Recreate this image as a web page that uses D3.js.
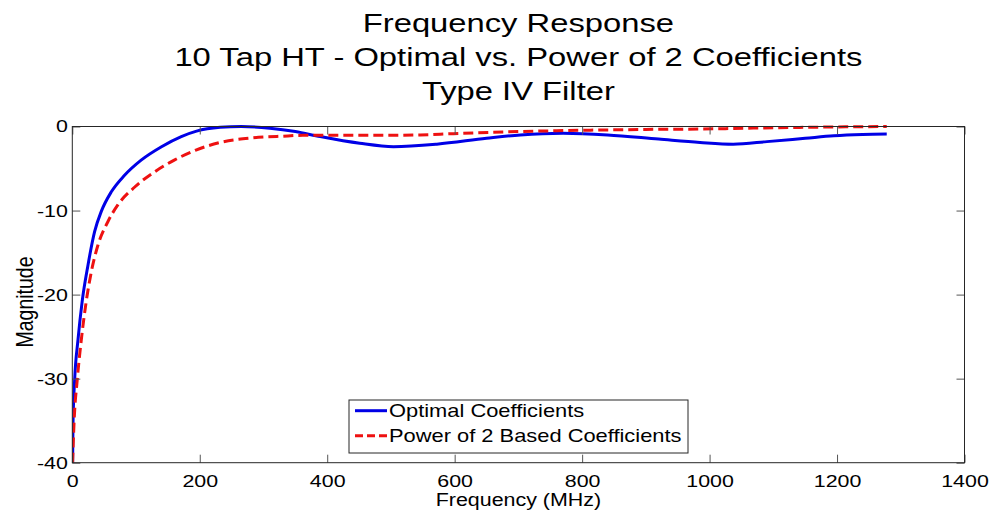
<!DOCTYPE html>
<html>
<head>
<meta charset="utf-8">
<script src="https://cdn.jsdelivr.net/npm/d3@7"></script>
<style>
  html, body { margin: 0; padding: 0; background: #fff; }
  svg { display: block; font-family: Arial, "Liberation Sans", sans-serif; }
</style>
</head>
<body>
<svg id="chart" width="993" height="514"></svg>
<script>
// Title lines
const titleLines = [
  "Frequency Response",
  "10 Tap HT - Optimal vs. Power of 2 Coefficients",
  "Type IV Filter"
];

// Axis ticks
const xTicks = [0, 200, 400, 600, 800, 1000, 1200, 1400];
const yTicks = [0, -10, -20, -30, -40];

// Optimal coefficients: frequency (MHz) and magnitude
const optimalFreq = [0.5, 1.1, 3.7, 8.9, 15.5, 24.6, 35, 45.5, 61, 82, 108, 140, 171, 195, 232, 265, 310, 350, 389, 451, 504, 572, 650, 703, 770, 840, 920, 985, 1037, 1090, 1150, 1195, 1240, 1278];
const optimalMag  = [-40, -35.3, -30.1, -25.4, -20.8, -16.5, -12.5, -10.1, -7.8, -5.8, -4.0, -2.4, -1.2, -0.55, -0.1, 0, -0.2, -0.6, -1.2, -2.0, -2.4, -2.1, -1.4, -1.0, -0.8, -1.0, -1.5, -1.9, -2.1, -1.8, -1.4, -1.1, -0.95, -0.9];

// Power-of-2 based coefficients: frequency (MHz) and magnitude
const pow2Freq = [0.5, 1.1, 2.7, 7.8, 14.1, 21.5, 29.8, 40.3, 56, 71.7, 98, 129, 160, 194, 232, 284, 330, 362, 441, 500, 546, 598, 703, 800, 900, 985, 1100, 1200, 1278];
const pow2Mag  = [-40, -38.5, -35.3, -30.1, -25.4, -21.0, -17.3, -14.1, -11.3, -9.3, -7.2, -5.4, -4.0, -2.8, -1.9, -1.35, -1.15, -1.05, -1.05, -1.05, -1.0, -0.85, -0.6, -0.45, -0.35, -0.3, -0.15, -0.05, 0];

const legendLabels = ["Optimal Coefficients", "Power of 2 Based Coefficients"];
const seriesColors = ["#0000e6", "#ee1111"];

const svg = d3.select("#chart");
const W = 993, H = 514;
const margin = { left: 72.3, right: W - 964.5, top: 126.5, bottom: H - 462.7 };

const x = d3.scaleLinear().domain([0, 1400]).range([margin.left, W - margin.right]);
const y = d3.scaleLinear().domain([-40, 0]).range([H - margin.bottom, margin.top]);

const axisColor = "#262626";
const tickLen = 8;
const stretch = 1.26;   // horizontal widening of the lettering

// Title
svg.append("g").selectAll("text").data(titleLines).join("text")
  .attr("transform", (d, i) => `translate(${(x(0) + x(1400)) / 2},${32 + i * 34}) scale(${stretch},1)`)
  .attr("text-anchor", "middle")
  .attr("font-size", 26)
  .attr("fill", "#000")
  .text(d => d);

// Clip region for the curves
svg.append("clipPath").attr("id", "plotClip")
  .append("rect")
  .attr("x", x(0)).attr("y", y(0) - 2)
  .attr("width", x(1400) - x(0)).attr("height", y(-40) - y(0) + 2);

// Curves
const line = d3.line()
  .x(d => x(d[0]))
  .y(d => y(d[1]))
  .curve(d3.curveMonotoneX);

const optimal = optimalFreq.map((f, i) => [f, optimalMag[i]]);
const pow2 = pow2Freq.map((f, i) => [f, pow2Mag[i]]);

const curves = svg.append("g").attr("clip-path", "url(#plotClip)");
curves.append("path").datum(optimal)
  .attr("d", line)
  .attr("fill", "none")
  .attr("stroke", seriesColors[0])
  .attr("stroke-width", 3);
curves.append("path").datum(pow2)
  .attr("d", line)
  .attr("fill", "none")
  .attr("stroke", seriesColors[1])
  .attr("stroke-width", 3)
  .attr("stroke-dasharray", "10,5");

// Axes: bottom and left with labels, top and right with inward ticks only
const fmt = d => String(d);
const xAxisBottom = d3.axisBottom(x).tickValues(xTicks).tickFormat(fmt).tickSizeInner(-tickLen).tickSizeOuter(0).tickPadding(12);
const xAxisTop = d3.axisTop(x).tickValues(xTicks).tickSizeInner(-tickLen).tickSizeOuter(0).tickFormat("");
const yAxisLeft = d3.axisLeft(y).tickValues(yTicks).tickFormat(fmt).tickSizeInner(-tickLen).tickSizeOuter(0).tickPadding(3.5);
const yAxisRight = d3.axisRight(y).tickValues(yTicks).tickSizeInner(-tickLen).tickSizeOuter(0).tickFormat("");

function styleAxis(g) {
  g.select(".domain").remove();
  g.selectAll(".tick line").attr("stroke", "#555").attr("stroke-width", 1);
  g.selectAll(".tick text")
    .attr("fill", "#000")
    .attr("font-size", 17)
    .attr("font-family", "Arial, 'Liberation Sans', sans-serif")
    .attr("transform", `scale(${stretch},1)`);
}

svg.append("g").attr("transform", `translate(0,${y(-40)})`).call(xAxisBottom).call(styleAxis);
svg.append("g").attr("transform", `translate(0,${y(0)})`).call(xAxisTop).call(styleAxis);
svg.append("g").attr("transform", `translate(${x(0)},0)`).call(yAxisLeft).call(styleAxis);
svg.append("g").attr("transform", `translate(${x(1400)},0)`).call(yAxisRight).call(styleAxis);

// Frame
svg.append("rect")
  .attr("x", x(0)).attr("y", y(0))
  .attr("width", x(1400) - x(0)).attr("height", y(-40) - y(0))
  .attr("fill", "none").attr("stroke", axisColor).attr("stroke-width", 1);

// Axis labels
svg.append("text")
  .attr("transform", `translate(${(x(0) + x(1400)) / 2},506) scale(1.19,1)`)
  .attr("text-anchor", "middle").attr("font-size", 18).attr("fill", "#000")
  .text("Frequency (MHz)");
svg.append("text")
  .attr("transform", `translate(33,302) rotate(-90) scale(1,${stretch})`)
  .attr("text-anchor", "middle").attr("font-size", 19.5).attr("fill", "#000")
  .text("Magnitude");

// Legend
const legend = svg.append("g");
legend.append("rect")
  .attr("x", 349).attr("y", 400).attr("width", 339).attr("height", 53)
  .attr("fill", "#fff").attr("stroke", axisColor).attr("stroke-width", 1);
const rows = legend.selectAll("g.row").data(legendLabels).join("g")
  .attr("class", "row")
  .attr("transform", (d, i) => `translate(0,${410.7 + i * 25})`);
rows.append("line")
  .attr("x1", 355).attr("x2", 387).attr("y1", 0).attr("y2", 0)
  .attr("stroke", (d, i) => seriesColors[i])
  .attr("stroke-width", 3)
  .attr("stroke-dasharray", (d, i) => i === 1 ? "8,4" : null);
rows.append("text")
  .attr("transform", `translate(389,6.5) scale(1.25,1)`)
  .attr("font-size", 17.5).attr("fill", "#000")
  .text(d => d);
</script>
</body>
</html>
